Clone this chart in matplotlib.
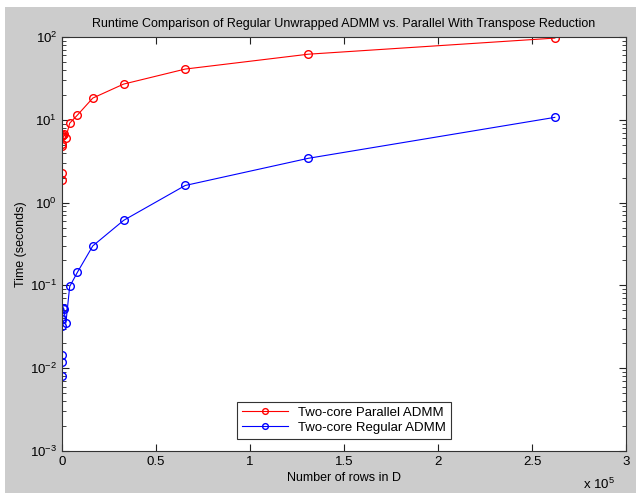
import matplotlib
matplotlib.use('Agg')
import matplotlib.pyplot as plt
from matplotlib.patches import Rectangle
from matplotlib.ticker import FuncFormatter, LogLocator, FixedLocator

plt.rcParams['font.family'] = ['Liberation Sans', 'DejaVu Sans']
plt.rcParams['mathtext.fontset'] = 'custom'
plt.rcParams['mathtext.rm'] = 'Liberation Sans'
plt.rcParams['font.size'] = 9

# rows in D (powers of two) and runtimes in seconds
rows = [16, 32, 64, 128, 256, 512, 1024, 2048, 4096, 8192, 16384, 32768, 65536, 131072, 262144]
parallel_time = [1.86, 2.3, 4.8, 5.07, 6.3, 6.6, 6.8, 6.1, 9.1, 11.4, 18.3, 27, 41, 62, 97]
regular_time = [0.0081, 0.012, 0.0145, 0.039, 0.032, 0.054, 0.052, 0.035, 0.097, 0.144, 0.30, 0.61, 1.61, 3.43, 10.7]

fig = plt.figure(figsize=(6.4, 4.97), dpi=100)
fig.patch.set_facecolor('white')
fig.patches.append(Rectangle((5/640, 4/497), 631/640, 486/497, transform=fig.transFigure,
                             facecolor='#cccccc', edgecolor='none', zorder=-10))

ax = fig.add_axes([62/640, 1 - 451/497, 564/640, 414/497])
ax.set_facecolor('white')

ax.plot(rows, parallel_time, color='red', marker='o', mfc='none', mec='red', ms=5.5, lw=0.8,
        label='Two-core Parallel ADMM')
ax.plot(rows, regular_time, color='blue', marker='o', mfc='none', mec='blue', ms=5.5, lw=0.8,
        label='Two-core Regular ADMM')

ax.set_yscale('log')
ax.set_xlim(0, 3e5)
ax.set_ylim(1e-3, 1e2)
ax.xaxis.set_major_locator(FixedLocator([0, 0.5e5, 1e5, 1.5e5, 2e5, 2.5e5, 3e5]))
ax.xaxis.set_major_formatter(FuncFormatter(lambda v, p: '%g' % (v / 1e5)))
ax.yaxis.set_major_locator(LogLocator(base=10, numticks=10))
ax.yaxis.set_minor_locator(LogLocator(base=10, subs=range(2, 10), numticks=20))

ax.tick_params(which='both', direction='in', top=True, right=True, colors='#222222',
               labelcolor='black', labelsize=9.5)
ax.tick_params(which='major', length=5, width=0.8)
ax.tick_params(which='minor', length=3, width=0.6)
for s in ax.spines.values():
    s.set_color('#333333')
    s.set_linewidth(0.8)

ax.set_title('Runtime Comparison of Regular Unwrapped ADMM vs. Parallel With Transpose Reduction',
             fontsize=9, pad=7)
ax.set_xlabel('Number of rows in D', labelpad=3)
ax.set_ylabel('Time (seconds)', labelpad=2)
fig.text(583/640, 1 - 489/497, 'x 10$^{5}$', fontsize=9.5)

leg = ax.legend(loc='lower center', bbox_to_anchor=(0.5, 0.014), fancybox=False,
                edgecolor='#333333', framealpha=1, borderpad=0.35, handlelength=3.5,
                labelspacing=0.2, fontsize=9.5, markerscale=0.75)
leg.get_frame().set_linewidth(0.8)

fig.savefig('out.png', dpi=100, facecolor=fig.get_facecolor())
